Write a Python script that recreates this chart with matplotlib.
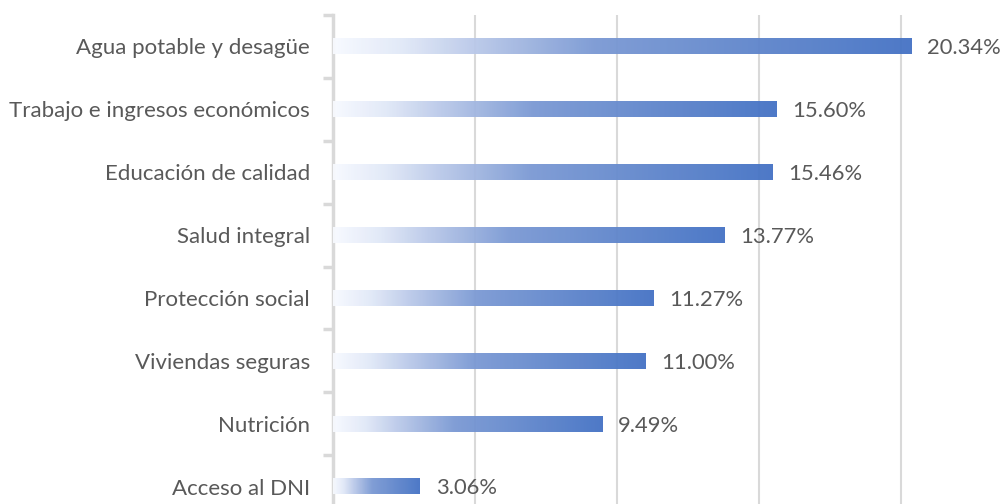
import numpy as np
import matplotlib
matplotlib.use('Agg')
import matplotlib.pyplot as plt
from matplotlib.colors import LinearSegmentedColormap

# Datos
categorias = ['Agua potable y desagüe', 'Trabajo e ingresos económicos', 'Educación de calidad',
              'Salud integral', 'Protección social', 'Viviendas seguras', 'Nutrición', 'Acceso al DNI']
valores = [20.34, 15.60, 15.46, 13.77, 11.27, 11.00, 9.49, 3.06]
etiquetas = ['20.34%', '15.60%', '15.46%', '13.77%', '11.27%', '11.00%', '9.49%', '3.06%']

plt.rcParams['font.family'] = ['Lato', 'DejaVu Sans']
gris_texto = '#595959'
gris_linea = '#d9d9d9'

# degradado blanco -> azul
cmap = LinearSegmentedColormap.from_list('grad', [
    (0.0, (0.97, 0.98, 1.0)),
    (0.12, (0.88, 0.91, 0.97)),
    (0.25, (0.72, 0.78, 0.91)),
    (0.45, (0.48, 0.60, 0.83)),
    (1.0, (0.267, 0.447, 0.769)),
])

fig = plt.figure(figsize=(10.01, 5.04), dpi=100)
# el grafico original esta recortado abajo y a la derecha
ax = fig.add_axes([333 / 1001, -14 / 504, 710.5 / 1001, 503 / 504])

n = len(categorias)
alto = 0.25
grad = np.linspace(0, 1, 256).reshape(1, -1)
for i, v in enumerate(valores):
    ax.imshow(grad, cmap=cmap, aspect='auto', extent=(0, v, i + alto / 2, i - alto / 2),
              zorder=3, alpha=0.95, interpolation='bilinear')
    ax.text(v + 0.55, i + 0.03, etiquetas[i], va='center', ha='left', fontsize=15.8, color=gris_texto, zorder=4)

ax.set_xlim(0, 25)
ax.set_ylim(n - 0.5, -0.5)

for x in [5, 10, 15, 20, 25]:
    ax.axvline(x, color=gris_linea, lw=1.5, zorder=1)

for s in ['top', 'right', 'bottom']:
    ax.spines[s].set_visible(False)
ax.spines['left'].set_color(gris_linea)
ax.spines['left'].set_linewidth(2.5)

ax.set_xticks([])
ax.set_yticks(range(n))
ax.set_yticklabels(categorias, fontsize=16, color=gris_texto)
ax.tick_params(axis='y', which='major', length=0, pad=16.5)
ax.set_yticks(np.arange(-0.5, n, 1), minor=True)
ax.tick_params(axis='y', which='minor', length=7, width=2.5, color=gris_linea)

fig.savefig('out.png', dpi=100)
